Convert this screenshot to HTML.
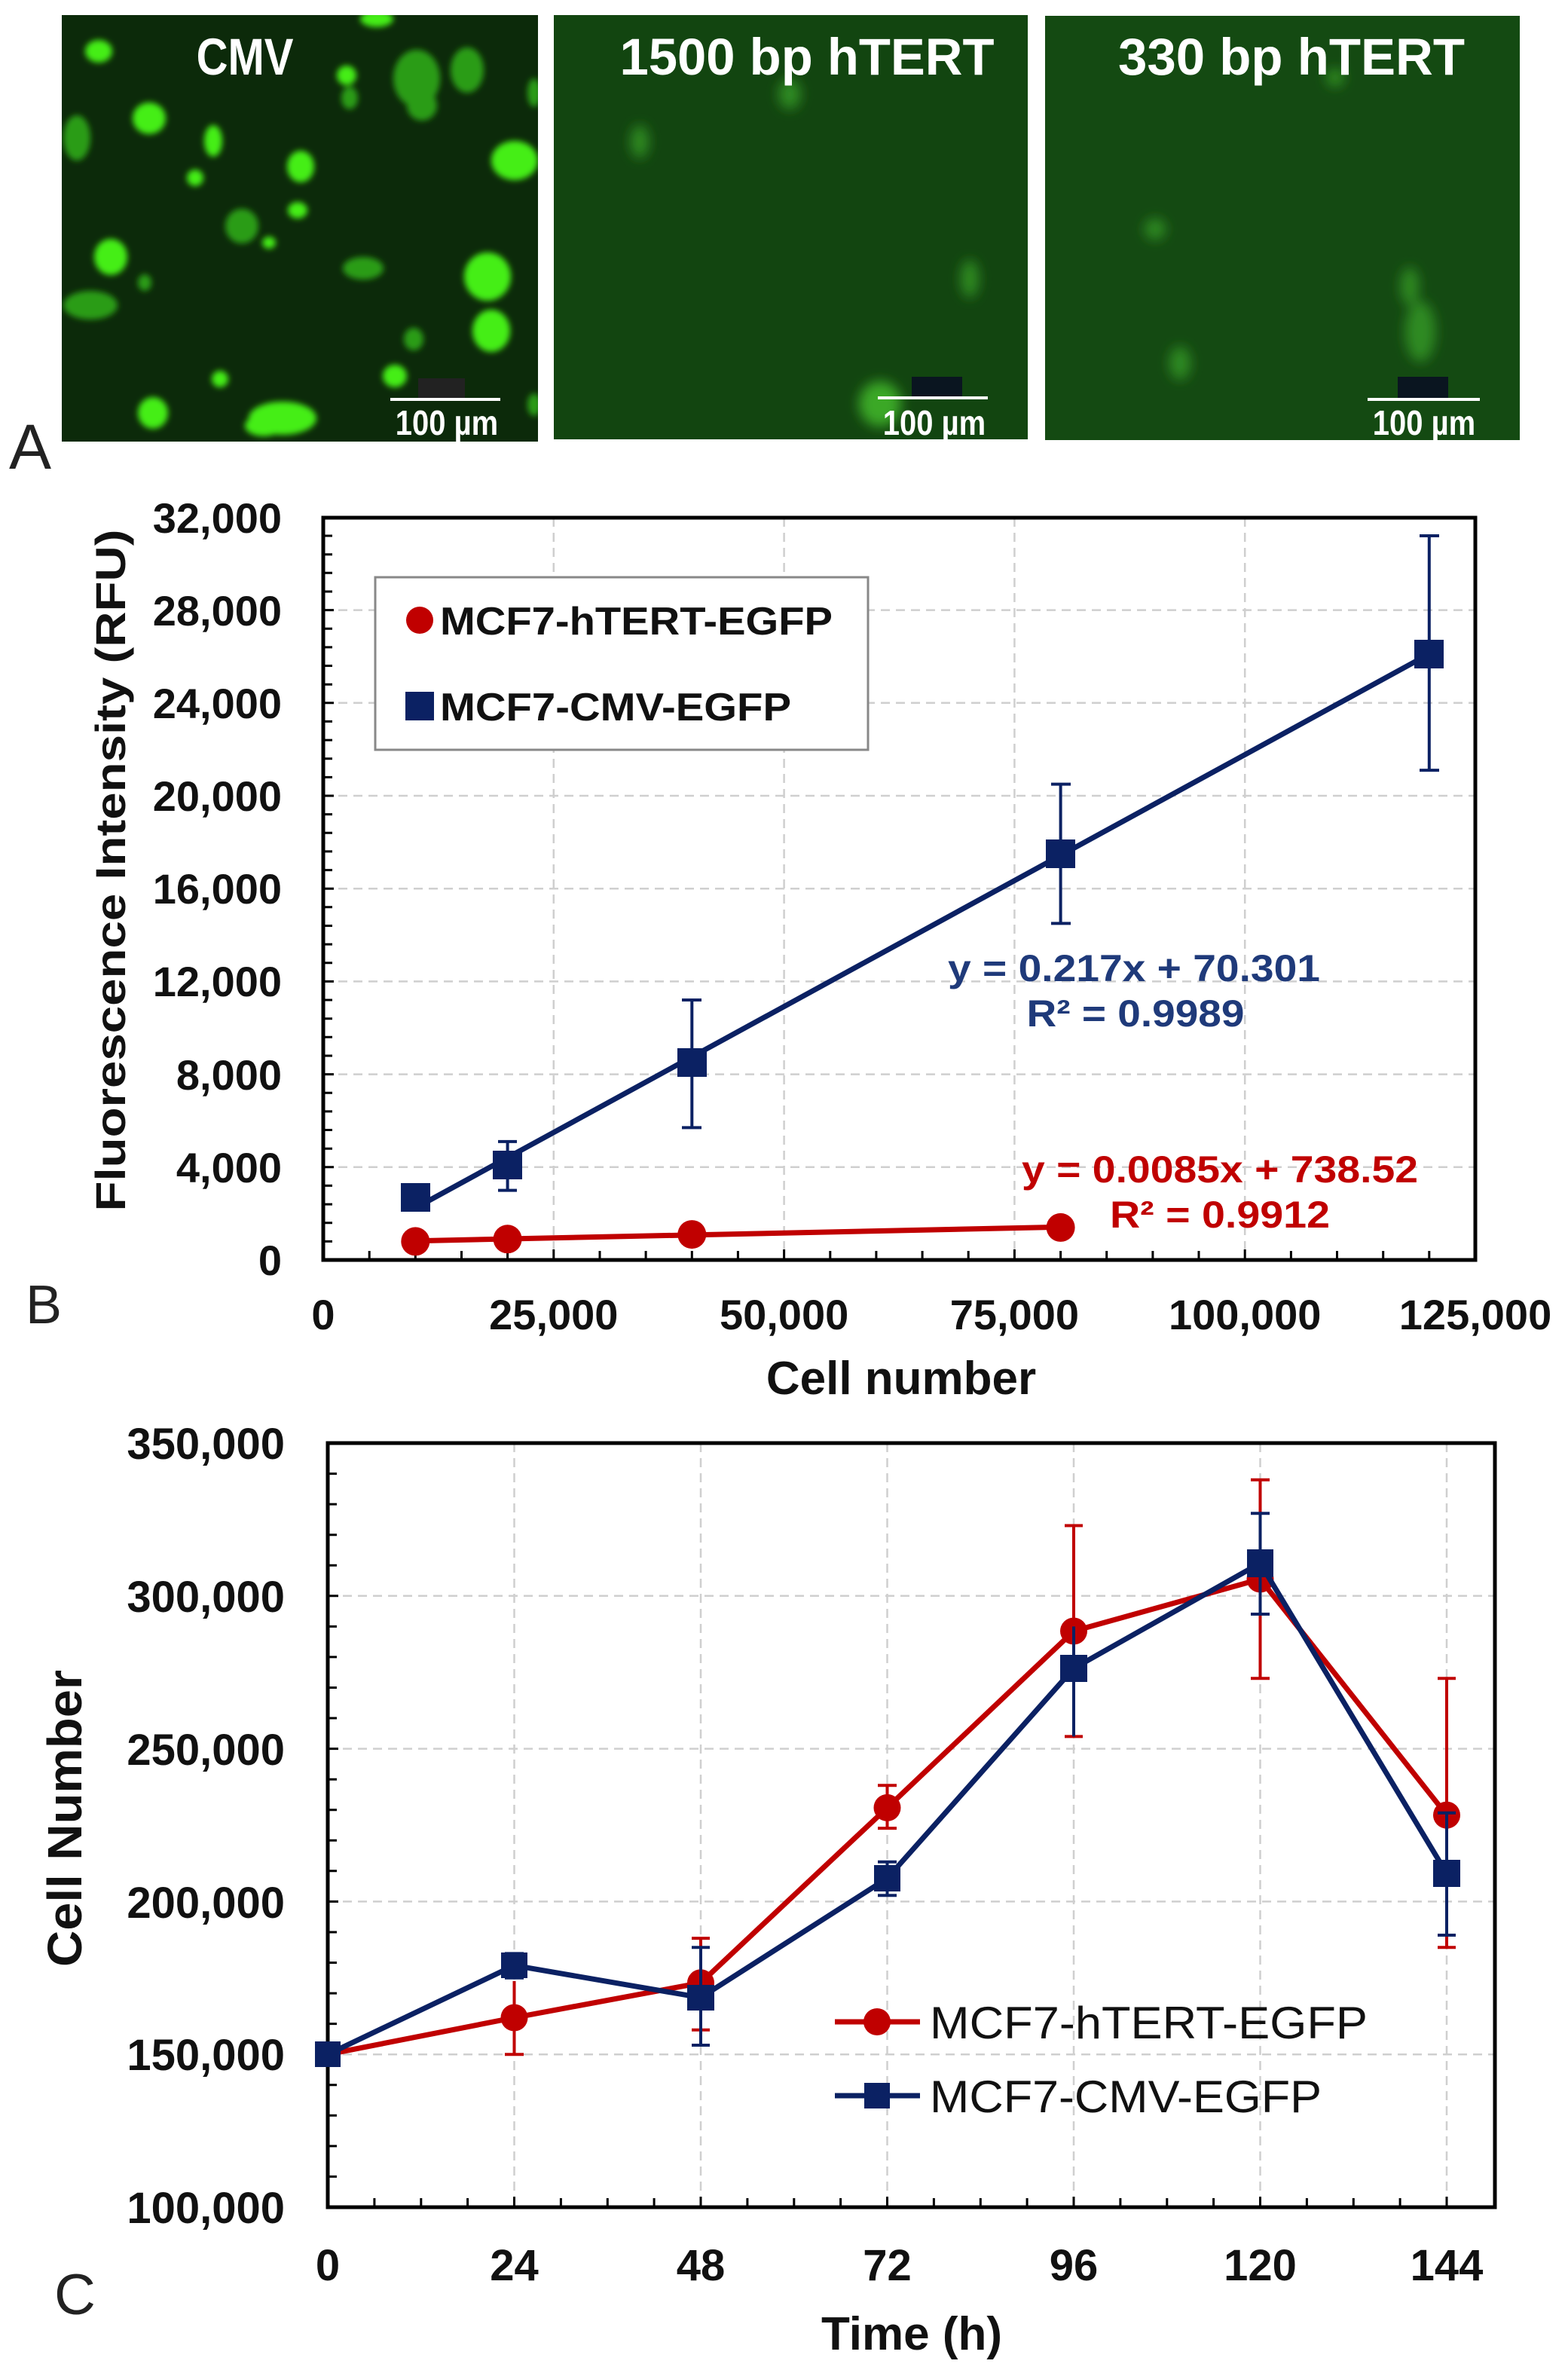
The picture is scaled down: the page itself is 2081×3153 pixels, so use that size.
<!DOCTYPE html>
<html><head><meta charset="utf-8"><style>
html,body{margin:0;padding:0;background:#fff;}
svg{display:block;}
text{font-family:"Liberation Sans",Arial,sans-serif;}
</style></head><body>
<svg width="2081" height="3153" viewBox="0 0 2081 3153" xmlns="http://www.w3.org/2000/svg">
<defs>
<filter id="bl" x="-50%" y="-50%" width="200%" height="200%"><feGaussianBlur stdDeviation="4"/></filter>
<filter id="bl2" x="-50%" y="-50%" width="200%" height="200%"><feGaussianBlur stdDeviation="8"/></filter>
<clipPath id="c1"><rect x="82" y="20" width="632" height="566"/></clipPath>
<clipPath id="c2"><rect x="735" y="20" width="629" height="563"/></clipPath>
<clipPath id="c3"><rect x="1387" y="21" width="630" height="563"/></clipPath>
</defs>
<rect width="2081" height="3153" fill="#fff"/>

<!-- Panel A images -->
<rect x="82" y="20" width="632" height="566" fill="#0c2a0a"/>
<g clip-path="url(#c1)" filter="url(#bl)">
<g fill="#45ee14">
<ellipse cx="131" cy="68" rx="18" ry="15"/>
<ellipse cx="198" cy="157" rx="22" ry="21"/>
<ellipse cx="283" cy="187" rx="12" ry="21"/>
<ellipse cx="259" cy="236" rx="11" ry="11"/>
<ellipse cx="399" cy="221" rx="18" ry="21"/>
<ellipse cx="395" cy="279" rx="13" ry="11"/>
<ellipse cx="460" cy="100" rx="13" ry="13"/>
<ellipse cx="683" cy="213" rx="31" ry="26"/>
<ellipse cx="147" cy="341" rx="22" ry="24"/>
<ellipse cx="357" cy="322" rx="9" ry="8"/>
<ellipse cx="647" cy="367" rx="31" ry="32"/>
<ellipse cx="652" cy="439" rx="25" ry="28"/>
<ellipse cx="524" cy="499" rx="16" ry="15"/>
<ellipse cx="292" cy="503" rx="11" ry="11"/>
<ellipse cx="203" cy="548" rx="20" ry="21"/>
<ellipse cx="375" cy="555" rx="45" ry="22"/>
<ellipse cx="500" cy="25" rx="22" ry="11"/>
<ellipse cx="350" cy="565" rx="25" ry="14"/>
</g>
<g fill="#2c9c18">
<ellipse cx="464" cy="130" rx="11" ry="15"/>
<ellipse cx="553" cy="104" rx="31" ry="38"/>
<ellipse cx="620" cy="93" rx="22" ry="30"/>
<ellipse cx="192" cy="375" rx="9" ry="11"/>
<ellipse cx="321" cy="300" rx="22" ry="23"/>
<ellipse cx="482" cy="356" rx="27" ry="15"/>
<ellipse cx="549" cy="450" rx="13" ry="15"/>
<ellipse cx="120" cy="405" rx="36" ry="19"/>
<ellipse cx="102" cy="183" rx="18" ry="30"/>
<ellipse cx="709" cy="123" rx="9" ry="19"/>
<ellipse cx="709" cy="537" rx="9" ry="15"/>
<ellipse cx="560" cy="140" rx="20" ry="20"/>
</g>
</g>
<rect x="735" y="20" width="629" height="563" fill="#124510"/>
<g clip-path="url(#c2)" filter="url(#bl2)" fill="#2f8a22">
<ellipse cx="849" cy="188" rx="12" ry="22"/>
<ellipse cx="1048" cy="125" rx="15" ry="20"/>
<ellipse cx="1287" cy="370" rx="12" ry="25"/>
<ellipse cx="1168" cy="536" rx="28" ry="30" fill="#3aa828"/>
</g>
<rect x="1387" y="21" width="630" height="563" fill="#144a12"/>
<g clip-path="url(#c3)" filter="url(#bl2)" fill="#2f8a22">
<ellipse cx="1533" cy="304" rx="14" ry="14"/>
<ellipse cx="1871" cy="380" rx="12" ry="25"/>
<ellipse cx="1885" cy="440" rx="20" ry="40"/>
<ellipse cx="1566" cy="482" rx="14" ry="22"/>
<ellipse cx="1772" cy="103" rx="12" ry="12"/>
</g>
<g fill="#fff" font-weight="bold" font-size="58" text-anchor="middle">
<text transform="translate(325,99) scale(1,1.18)">CMV</text>
<text transform="translate(1071,99) scale(1,1.18)" textLength="497" lengthAdjust="spacingAndGlyphs">1500 bp hTERT</text>
<text transform="translate(1714,99) scale(1,1.18)" textLength="460" lengthAdjust="spacingAndGlyphs">330 bp hTERT</text>
</g>
<rect x="555" y="502" width="62" height="27" fill="#222"/>
<rect x="1210" y="500" width="67" height="29" fill="#0a1520"/>
<rect x="1855" y="500" width="67" height="29" fill="#0a1520"/>
<g stroke="#fff" stroke-width="4"><line x1="518" y1="530" x2="664" y2="530"/><line x1="1165" y1="528" x2="1311" y2="528"/><line x1="1815" y1="530" x2="1964" y2="530"/></g>
<g fill="#fff" font-weight="bold" font-size="40" text-anchor="middle">
<text transform="translate(593,577) scale(1,1.15)">100 µm</text><text transform="translate(1240,577) scale(1,1.15)">100 µm</text><text transform="translate(1890,577) scale(1,1.15)">100 µm</text>
</g>
<text x="12" y="622" font-size="84" fill="#222">A</text>

<!-- Panel B -->
<g stroke="#cfcfcf" stroke-width="2.5" stroke-dasharray="12,8">
<line x1="429" y1="1548.8" x2="1958" y2="1548.8"/><line x1="429" y1="1425.6" x2="1958" y2="1425.6"/>
<line x1="429" y1="1302.4" x2="1958" y2="1302.4"/><line x1="429" y1="1179.2" x2="1958" y2="1179.2"/>
<line x1="429" y1="1056" x2="1958" y2="1056"/><line x1="429" y1="932.8" x2="1958" y2="932.8"/>
<line x1="429" y1="809.6" x2="1958" y2="809.6"/>
<line x1="734.8" y1="687" x2="734.8" y2="1672"/><line x1="1040.6" y1="687" x2="1040.6" y2="1672"/>
<line x1="1346.4" y1="687" x2="1346.4" y2="1672"/><line x1="1652.2" y1="687" x2="1652.2" y2="1672"/>
</g>
<g stroke="#000" stroke-width="3">
<path d="M490.2 1672v-12M551.3 1672v-12M612.5 1672v-12M673.6 1672v-12M734.8 1672v-14M796 1672v-12M857.1 1672v-12M918.3 1672v-12M979.4 1672v-12M1040.6 1672v-14M1101.8 1672v-12M1162.9 1672v-12M1224.1 1672v-12M1285.2 1672v-12M1346.4 1672v-14M1407.6 1672v-12M1468.7 1672v-12M1529.9 1672v-12M1591 1672v-12M1652.2 1672v-14M1713.4 1672v-12M1774.5 1672v-12M1835.7 1672v-12M1896.8 1672v-12"/>
<path d="M429 1647.4h12M429 1622.7h12M429 1598.1h12M429 1573.4h12M429 1548.8h14M429 1524.2h12M429 1499.5h12M429 1474.9h12M429 1450.2h12M429 1425.6h14M429 1401h12M429 1376.3h12M429 1351.7h12M429 1327h12M429 1302.4h14M429 1277.8h12M429 1253.1h12M429 1228.5h12M429 1203.8h12M429 1179.2h14M429 1154.6h12M429 1129.9h12M429 1105.3h12M429 1080.6h12M429 1056h14M429 1031.4h12M429 1006.7h12M429 982.1h12M429 957.4h12M429 932.8h14M429 908.2h12M429 883.5h12M429 858.9h12M429 834.2h12M429 809.6h14M429 785h12M429 760.3h12M429 735.7h12M429 711h12"/>
</g>
<rect x="429" y="687" width="1529" height="985" fill="none" stroke="#000" stroke-width="5"/>
<g font-weight="bold" font-size="56" fill="#111" text-anchor="end">
<text x="374" y="707">32,000</text><text x="374" y="830">28,000</text><text x="374" y="953">24,000</text>
<text x="374" y="1076">20,000</text><text x="374" y="1199">16,000</text><text x="374" y="1322">12,000</text>
<text x="374" y="1446">8,000</text><text x="374" y="1569">4,000</text><text x="374" y="1692">0</text>
</g>
<g font-weight="bold" font-size="56" fill="#111" text-anchor="middle">
<text x="429" y="1764">0</text><text x="734.8" y="1764">25,000</text><text x="1040.6" y="1764">50,000</text>
<text x="1346.4" y="1764">75,000</text><text x="1652.2" y="1764">100,000</text><text x="1958" y="1764">125,000</text>
<text x="1196" y="1850" font-size="62">Cell number</text>
<text transform="translate(166,1155) rotate(-90)" font-size="56" textLength="905" lengthAdjust="spacingAndGlyphs">Fluorescence Intensity (RFU)</text>
</g>
<text x="34" y="1756" font-size="72" fill="#222">B</text>
<rect x="498" y="766" width="654" height="229" fill="#fff" stroke="#888" stroke-width="3"/>
<circle cx="557" cy="823" r="18" fill="#c00000"/>
<rect x="538" y="918" width="38" height="38" fill="#0b2163"/>
<g font-weight="bold" font-size="52" fill="#111">
<text x="584" y="842" textLength="521" lengthAdjust="spacingAndGlyphs">MCF7-hTERT-EGFP</text>
<text x="584" y="956" textLength="466" lengthAdjust="spacingAndGlyphs">MCF7-CMV-EGFP</text>
</g>
<g stroke="#0b2163" stroke-width="4" fill="none">
<path d="M673.6 1579.6V1514.9M661 1579.6h25M661 1514.9h25"/>
<path d="M918.3 1496.4V1327M905 1496.4h26M905 1327h26"/>
<path d="M1407.6 1225.4V1040.6M1395 1225.4h26M1395 1040.6h26"/>
<path d="M1896.8 1022.1V711M1884 1022.1h26M1884 711h26"/>
</g>
<line x1="551.3" y1="1603" x2="1896.8" y2="867.8" stroke="#0b2163" stroke-width="7"/>
<g fill="#0b2163">
<rect x="532" y="1570" width="39" height="38"/><rect x="654" y="1527" width="39" height="38"/>
<rect x="899" y="1391" width="39" height="38"/><rect x="1388" y="1114" width="39" height="38"/>
<rect x="1877" y="849" width="39" height="38"/>
</g>
<line x1="551.3" y1="1646.7" x2="1407.6" y2="1628.3" stroke="#c00000" stroke-width="7"/>
<g fill="#c00000">
<circle cx="551.3" cy="1647.4" r="19"/><circle cx="673.6" cy="1644.3" r="19"/>
<circle cx="918.3" cy="1638.1" r="19"/><circle cx="1407.6" cy="1628.9" r="19"/>
</g>
<g font-weight="bold" font-size="50" text-anchor="middle">
<text x="1505" y="1302" fill="#1f3a7a" textLength="494" lengthAdjust="spacingAndGlyphs">y = 0.217x + 70.301</text>
<text x="1507" y="1362" fill="#1f3a7a" textLength="289" lengthAdjust="spacingAndGlyphs">R² = 0.9989</text>
<text x="1619" y="1569" fill="#c00000" textLength="526" lengthAdjust="spacingAndGlyphs">y = 0.0085x + 738.52</text>
<text x="1619" y="1629" fill="#c00000" textLength="292" lengthAdjust="spacingAndGlyphs">R² = 0.9912</text>
</g>

<!-- Panel C -->
<g stroke="#cfcfcf" stroke-width="2.5" stroke-dasharray="12,8">
<line x1="435" y1="2726.2" x2="1984" y2="2726.2"/><line x1="435" y1="2523.4" x2="1984" y2="2523.4"/>
<line x1="435" y1="2320.6" x2="1984" y2="2320.6"/><line x1="435" y1="2117.8" x2="1984" y2="2117.8"/>
<line x1="682.5" y1="1915" x2="682.5" y2="2929"/><line x1="930" y1="1915" x2="930" y2="2929"/>
<line x1="1177.5" y1="1915" x2="1177.5" y2="2929"/><line x1="1425" y1="1915" x2="1425" y2="2929"/>
<line x1="1672.5" y1="1915" x2="1672.5" y2="2929"/><line x1="1920" y1="1915" x2="1920" y2="2929"/>
</g>
<g stroke="#000" stroke-width="3">
<path d="M496.9 2929v-12M558.8 2929v-12M620.6 2929v-12M682.5 2929v-14M744.4 2929v-12M806.3 2929v-12M868.1 2929v-12M930 2929v-14M991.9 2929v-12M1053.8 2929v-12M1115.6 2929v-12M1177.5 2929v-14M1239.4 2929v-12M1301.3 2929v-12M1363.1 2929v-12M1425 2929v-14M1486.9 2929v-12M1548.8 2929v-12M1610.6 2929v-12M1672.5 2929v-14M1734.4 2929v-12M1796.3 2929v-12M1858.1 2929v-12M1920 2929v-14"/>
<path d="M435 2888.4h12M435 2847.9h12M435 2807.3h12M435 2766.8h12M435 2726.2h14M435 2685.6h12M435 2645.1h12M435 2604.5h12M435 2564h12M435 2523.4h14M435 2482.8h12M435 2442.3h12M435 2401.7h12M435 2361.2h12M435 2320.6h14M435 2280h12M435 2239.5h12M435 2198.9h12M435 2158.4h12M435 2117.8h14M435 2077.2h12M435 2036.7h12M435 1996.1h12M435 1955.6h12"/>
</g>
<rect x="435" y="1915" width="1549" height="1014" fill="none" stroke="#000" stroke-width="5"/>
<g font-weight="bold" font-size="58" fill="#111" text-anchor="end">
<text x="378" y="1936">350,000</text><text x="378" y="2139">300,000</text><text x="378" y="2342">250,000</text>
<text x="378" y="2545">200,000</text><text x="378" y="2747">150,000</text><text x="378" y="2950">100,000</text>
</g>
<g font-weight="bold" font-size="58" fill="#111" text-anchor="middle">
<text x="435" y="3026">0</text><text x="682.5" y="3026">24</text><text x="930" y="3026">48</text>
<text x="1177.5" y="3026">72</text><text x="1425" y="3026">96</text><text x="1672.5" y="3026">120</text><text x="1920" y="3026">144</text>
<text x="1210" y="3118" font-size="62">Time (h)</text>
<text transform="translate(108,2413) rotate(-90)" font-size="64" textLength="394" lengthAdjust="spacingAndGlyphs">Cell Number</text>
</g>
<text x="72" y="3071" font-size="76" fill="#222">C</text>
<g stroke="#c00000" stroke-width="4" fill="none">
<path d="M682.5 2726.2V2628.9M670 2726.2h25"/>
<path d="M930 2693.8V2572.1M918 2693.8h24M918 2572.1h24"/>
<path d="M1177.5 2426.1V2369.3M1165 2426.1h25M1165 2369.3h25"/>
<path d="M1425 2304.4V2024.5M1413 2304.4h24M1413 2024.5h24"/>
<path d="M1672.5 2227.3V1963.7M1660 2227.3h25M1660 1963.7h25"/>
<path d="M1920 2584.2V2227.3M1908 2584.2h24M1908 2227.3h24"/>
</g>
<polyline points="435,2726.2 682.5,2677.5 930,2631.3 1177.5,2398.9 1425,2164.5 1672.5,2095.5 1920,2408.6" fill="none" stroke="#c00000" stroke-width="7" stroke-linejoin="round"/>
<g fill="#c00000">
<circle cx="682.5" cy="2677.5" r="18"/><circle cx="930" cy="2631.3" r="18"/><circle cx="1177.5" cy="2398.9" r="18"/>
<circle cx="1425" cy="2164.5" r="18"/><circle cx="1672.5" cy="2095.5" r="18"/><circle cx="1920" cy="2408.6" r="18"/>
</g>
<g stroke="#0b2163" stroke-width="4" fill="none">
<path d="M682.5 2624.8V2592.4M670 2624.8h25M670 2592.4h25"/>
<path d="M930 2714V2584.2M918 2714h24M918 2584.2h24"/>
<path d="M1177.5 2515.3V2470.7M1165 2515.3h25M1165 2470.7h25"/>
<path d="M1425 2304.4V2158.4"/>
<path d="M1672.5 2142V2008.3M1660 2142h25M1660 2008.3h25"/>
<path d="M1920 2568V2405.8M1908 2568h24M1908 2405.8h24"/>
</g>
<polyline points="435,2726.2 682.5,2608.2 930,2650.8 1177.5,2492.6 1425,2213.9 1672.5,2074.4 1920,2486.1" fill="none" stroke="#0b2163" stroke-width="7" stroke-linejoin="round"/>
<g fill="#0b2163">
<rect x="418" y="2709" width="34" height="34"/><rect x="665" y="2591" width="35" height="34"/>
<rect x="912" y="2634" width="36" height="34"/><rect x="1160" y="2475" width="35" height="35"/>
<rect x="1407" y="2196" width="36" height="36"/><rect x="1655" y="2056" width="35" height="37"/>
<rect x="1902" y="2468" width="36" height="36"/>
</g>
<line x1="1108" y1="2683" x2="1221" y2="2683" stroke="#c00000" stroke-width="7"/>
<circle cx="1164" cy="2683" r="18" fill="#c00000"/>
<line x1="1108" y1="2781" x2="1221" y2="2781" stroke="#0b2163" stroke-width="7"/>
<rect x="1147" y="2764" width="34" height="34" fill="#0b2163"/>
<g font-size="60" fill="#111">
<text x="1234" y="2705" textLength="581" lengthAdjust="spacingAndGlyphs">MCF7-hTERT-EGFP</text>
<text x="1234" y="2803" textLength="520" lengthAdjust="spacingAndGlyphs">MCF7-CMV-EGFP</text>
</g>
</svg>
</body></html>
